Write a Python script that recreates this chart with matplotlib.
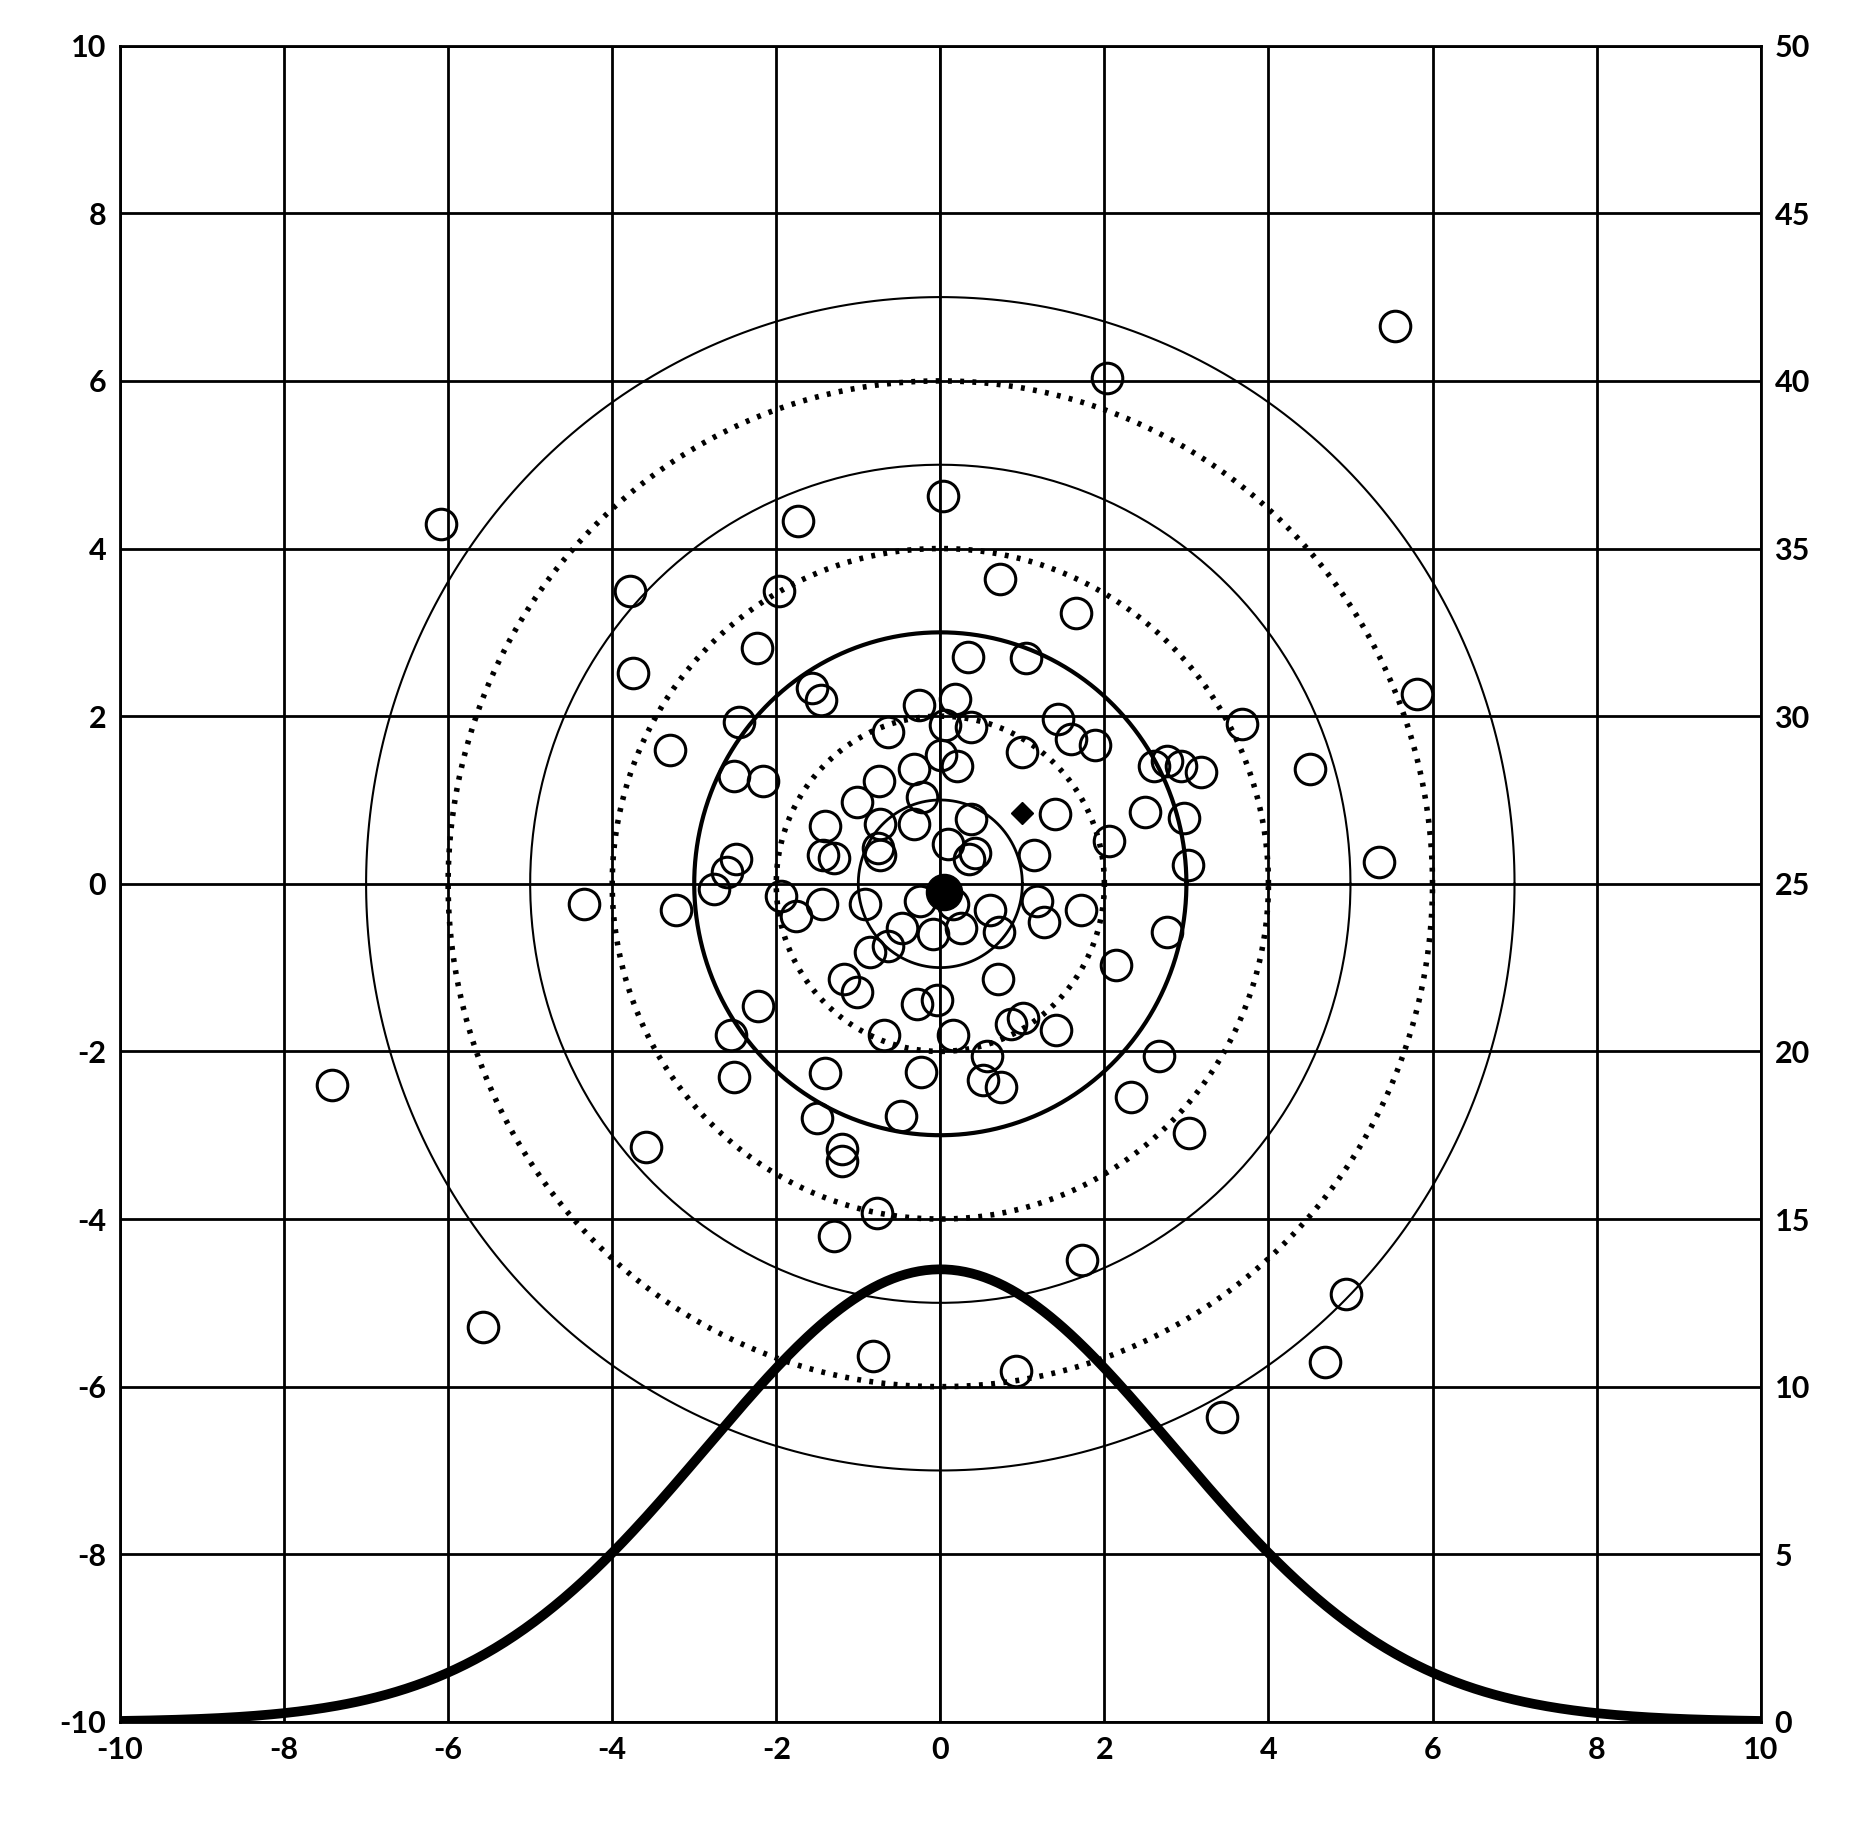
import numpy as np
import matplotlib
matplotlib.use("Agg")
import matplotlib.pyplot as plt

pts_x = [-6.09,5.54,2.03,0.03,-1.74,-3.78,-1.97,0.73,1.66,-3.75,-2.23,0.34,1.04,-1.56,-1.45,-0.26,0.18,5.81,
 -3.3,-2.45,-0.64,0.06,0.38,1.43,1.59,1.88,3.68,4.51,-2.51,-2.16,-0.75,-0.32,0.01,0.2,0.99,2.61,2.76,2.93,3.18,
 -1.01,-0.22,-0.73,-0.32,-1.41,0.38,1.4,2.49,2.97,2.06,-0.76,-0.73,-1.43,-1.3,1.14,0.09,0.42,0.35,3.02,5.35,
 -2.49,-2.6,-2.76,-4.34,-3.22,-1.94,-1.76,-1.44,-0.92,-0.25,0.16,0.6,1.18,1.27,1.71,2.76,-0.47,-0.09,0.25,0.71,
 -0.64,-0.86,2.14,0.7,-1.18,-1.01,-2.22,-0.28,-0.04,0.86,1.01,1.41,-2.55,-0.69,0.16,0.57,2.67,-2.52,-1.41,-0.23,
 0.52,0.74,2.32,-0.48,-1.5,3.03,-3.59,-1.2,-1.2,-0.77,-1.3,1.73,4.94,-5.57,-7.41,-0.82,0.92,4.69,3.43]
pts_y = [4.29,6.66,6.04,4.63,4.33,3.49,3.49,3.64,3.23,2.51,2.81,2.7,2.69,2.33,2.19,2.13,2.21,2.26,
 1.6,1.93,1.81,1.9,1.87,1.97,1.73,1.66,1.91,1.37,1.29,1.23,1.23,1.37,1.54,1.4,1.57,1.4,1.47,1.4,1.33,
 0.97,1.03,0.71,0.71,0.69,0.77,0.83,0.86,0.79,0.51,0.43,0.34,0.34,0.31,0.34,0.47,0.37,0.29,0.23,0.26,
 0.3,0.14,-0.06,-0.24,-0.31,-0.14,-0.39,-0.24,-0.24,-0.2,-0.24,-0.31,-0.2,-0.46,-0.31,-0.57,-0.53,-0.6,-0.53,-0.57,
 -0.74,-0.81,-0.97,-1.14,-1.14,-1.29,-1.46,-1.43,-1.39,-1.67,-1.6,-1.74,-1.81,-1.81,-1.81,-2.06,-2.06,-2.31,-2.26,-2.24,
 -2.34,-2.43,-2.54,-2.77,-2.8,-2.97,-3.14,-3.17,-3.31,-3.93,-4.2,-4.49,-4.89,-5.29,-2.4,-5.63,-5.81,-5.71,-6.36]
center_x, center_y = [0.05], [-0.1]
mean_x, mean_y = [1.0], [0.85]
solid_radii = [1, 3, 5, 7]
dotted_radii = [2, 4, 6]
curve_peak, curve_sigma = 13.5, 2.85

plt.rcParams['font.family'] = ['Lato', 'DejaVu Sans']
plt.rcParams['axes.unicode_minus'] = False
fig = plt.figure(figsize=(18.75, 18.26), dpi=100)
ax = fig.add_axes([0.064, 0.057, 0.875, 0.918])
ax.set_xlim(-10, 10); ax.set_ylim(-10, 10)
ax.set_xticks(range(-10, 11, 2)); ax.set_yticks(range(-10, 11, 2))
ax.grid(True, color='black', lw=2)
ax.set_axisbelow(True)
for s in ax.spines.values():
    s.set_linewidth(2)
ax.axvline(0, color='black', lw=1.2)
t = np.linspace(0, 2*np.pi, 400)
lws = {1: 2, 3: 3, 5: 1.5, 7: 1.5}
for r in solid_radii:
    ax.plot(r*np.cos(t), r*np.sin(t), color='black', lw=lws[r])
for r in dotted_radii:
    ax.plot(r*np.cos(t), r*np.sin(t), color='black', lw=4, ls=(0, (0.7, 1.5)))
ax.plot(pts_x, pts_y, 'o', mfc='none', mec='black', ms=22, mew=2.2)
ax.plot(center_x, center_y, 'o', color='black', ms=26)
ax.plot(mean_x, mean_y, 'D', color='black', ms=11)
ax.tick_params(labelsize=22, length=0, pad=10)
for lab in ax.get_xticklabels() + ax.get_yticklabels():
    lab.set_fontweight('bold')
ax2 = ax.twinx()
ax2.set_ylim(0, 50); ax2.set_yticks(range(0, 51, 5))
ax2.tick_params(labelsize=22, length=0, pad=10)
for lab in ax2.get_yticklabels():
    lab.set_fontweight('bold')
xc = np.linspace(-10, 10, 500)
ax2.plot(xc, curve_peak*np.exp(-xc**2/(2*curve_sigma**2)), color='black', lw=7)
fig.savefig('out.png', dpi=100)
